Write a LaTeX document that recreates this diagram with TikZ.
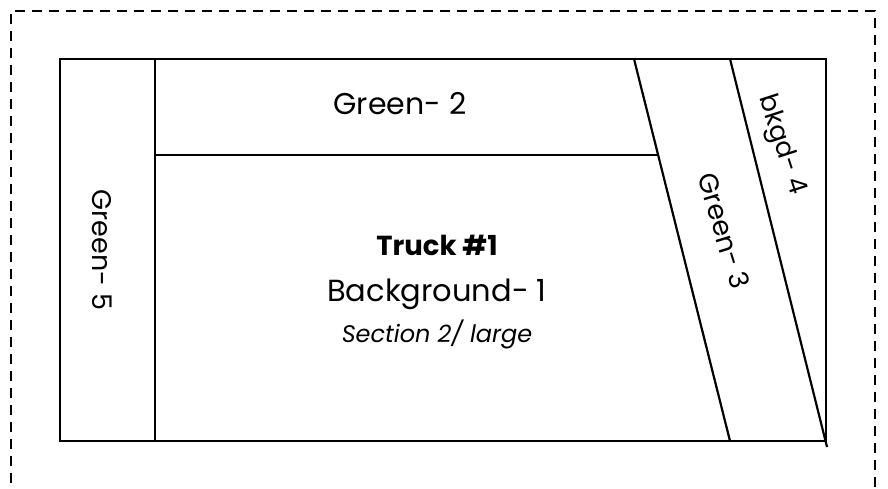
\documentclass[tikz,border=0pt]{standalone}
\usepackage{fontspec}
\setmainfont{Poppins}

\tikzset{
  frame/.style={line width=2pt, dash pattern=on 10pt off 7pt},
  cut/.style={line width=2.2pt},
  lbl/.style={font=\fontsize{27}{31}\selectfont, inner sep=0pt}
}

\begin{document}
\begin{tikzpicture}[x=1pt, y=-1pt]
  \useasboundingbox (0,0) rectangle (888,489);

  % outer dashed frame (runs off the bottom)
  \coordinate (fbl) at (11,500);
  \coordinate (ftl) at (11,11);
  \coordinate (ftr) at (875,11);
  \coordinate (fbr) at (875,500);
  \draw[frame] (fbl) -- (ftl) -- (ftr) -- (fbr);

  % truck panel
  \coordinate (tl) at (60,59);
  \coordinate (br) at (826,441);
  \draw[cut] (tl) rectangle (br);

  \coordinate (v5t) at (155,59);
  \coordinate (v5b) at (155,441);
  \draw[line width=2.8pt] (v5t) -- (v5b);

  \coordinate (s3t) at (634,59);
  \coordinate (s3b) at (730,441);
  \draw[cut] (s3t) -- (s3b);

  \coordinate (s4t) at (730,59);
  \coordinate (s4b) at (827,447);
  \draw[cut] (s4t) -- (s4b);

  \coordinate (h2l) at (155,155);
  \coordinate (h2r) at (658,155);
  \draw[cut] (h2l) -- (h2r);

  % labels
  \node[lbl, font=\fontsize{30}{34}\selectfont] (g2) at (400,104) {Green- 2};
  \node[lbl, rotate=-90] (g5) at (102,250) {Green- 5};
  \node[lbl, rotate=-73] (g3) at (724,231) {Green- 3};
  \node[lbl, font=\fontsize{26}{30}\selectfont, rotate=-72] (b4) at (781,145) {bkgd- 4};

  \node[lbl, font=\fontsize{27.5}{31}\bfseries] (truck) at (437,245) {Truck \#1};
  \node[lbl, font=\fontsize{30.5}{34}\selectfont] (bg1) at (437,294) {Background- 1};
  \node[lbl, font=\fontsize{24}{28}\itshape] (sec) at (437,334) {Section 2/ large};
\end{tikzpicture}
\end{document}
